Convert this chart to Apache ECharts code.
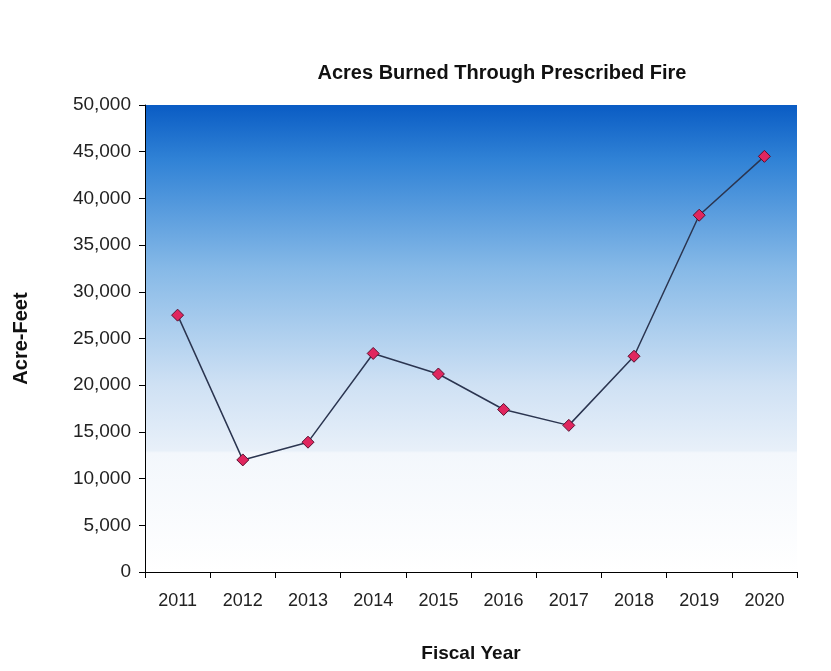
<!DOCTYPE html>
<html>
<head>
<meta charset="utf-8">
<script src="https://cdn.jsdelivr.net/npm/echarts@6/dist/echarts.min.js"></script>
<style>
  html, body { margin: 0; padding: 0; background: #fff; }
  #chart { width: 831px; height: 671px; }
</style>
</head>
<body>
<div id="chart"></div>
<script>
// values
const years = ['2011', '2012', '2013', '2014', '2015', '2016', '2017', '2018', '2019', '2020'];
const acreFeet = [27500, 12000, 13900, 23400, 21200, 17400, 15700, 23100, 38200, 44500];

const font = '"Liberation Sans", Arial, sans-serif';

const chart = echarts.init(document.getElementById('chart'));
chart.setOption({
  animation: false,
  backgroundColor: '#ffffff',
  title: {
    text: 'Acres Burned Through Prescribed Fire',
    left: 497,
    textAlign: 'center',
    top: 58,
    textStyle: { fontFamily: font, fontSize: 20, fontWeight: 'bold', color: '#111' },
  },
  grid: {
    left: 145,
    right: 34,
    top: 105,
    bottom: 99,
    show: true,
    borderWidth: 0,
    backgroundColor: new echarts.graphic.LinearGradient(0, 0, 0, 1, [
      { offset: 0, color: '#0a5cc4' },
      { offset: 0.12, color: '#3183d6' },
      { offset: 0.35, color: '#86b9e7' },
      { offset: 0.6, color: '#cfe1f4' },
      { offset: 0.74, color: '#e8f0f9' },
      { offset: 0.745, color: '#f3f7fc' },
      { offset: 1, color: '#ffffff' },
    ]),
  },
  xAxis: {
    type: 'category',
    data: years,
    boundaryGap: true,
    name: 'Fiscal Year',
    nameLocation: 'middle',
    nameGap: 72,
    nameTextStyle: { fontFamily: font, fontSize: 19, fontWeight: 'bold', color: '#111' },
    axisLine: { lineStyle: { color: '#000', width: 1 } },
    axisTick: { show: true, length: 6, alignWithLabel: false, lineStyle: { color: '#000' } },
    axisLabel: { fontFamily: font, fontSize: 18, color: '#222', margin: 20 },
    splitLine: { show: false },
  },
  yAxis: {
    type: 'value',
    min: 0,
    max: 50000,
    interval: 5000,
    name: 'Acre-Feet',
    nameLocation: 'middle',
    nameGap: 114,
    nameRotate: 90,
    nameTextStyle: { fontFamily: font, fontSize: 20, fontWeight: 'bold', color: '#111' },
    axisLine: { show: true, lineStyle: { color: '#000', width: 1 } },
    axisTick: { show: true, length: 6, lineStyle: { color: '#000' } },
    axisLabel: {
      fontFamily: font,
      fontSize: 19,
      color: '#222',
      margin: 14,
      formatter: (v) => v.toLocaleString('en-US'),
    },
    splitLine: { show: false },
  },
  series: [
    {
      type: 'line',
      data: acreFeet,
      symbol: 'diamond',
      symbolSize: 12,
      lineStyle: { color: '#2b3550', width: 1.5 },
      itemStyle: { color: '#e0265e', borderColor: '#5a1030', borderWidth: 1 },
    },
  ],
});
</script>
</body>
</html>
